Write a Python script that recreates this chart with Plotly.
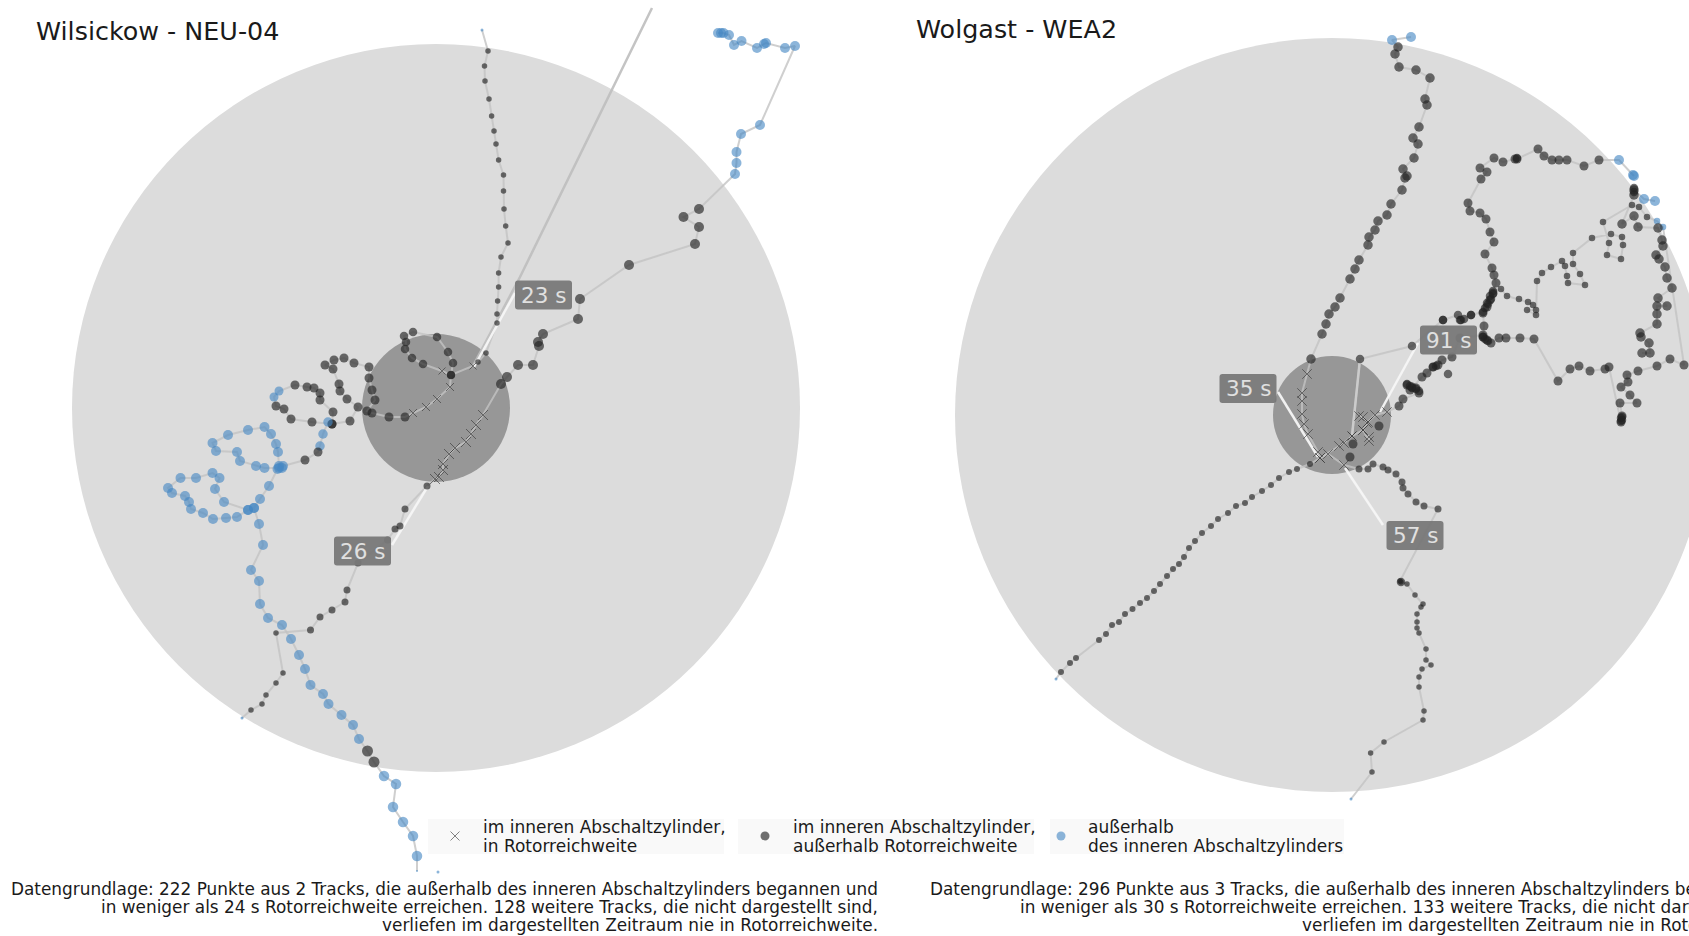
import plotly.graph_objects as go

# ---------- data: positions in the chart's drawing units ----------
big_left, inner_left = (436, 408, 364), (436, 408, 74)
big_right, inner_right = (1332, 415, 377), (1332, 415, 59)

# Wilsickow track A
a_start = [(482, 30)]
a_top = [(488,51),(484.5,66),(485,81),(489,99),(491.6,116),(494,131),(496,144),(498.6,160),(503.5,175),(503.5,191),(504,209),(505.7,226),(508,243),(501,257),(498.6,273),(498.6,287),(497.6,301),(497,314),(497,323),(486,353),(478,362)]
a_x1 = [(473,366)]
a_loop1 = [(451,375)]
a_x2 = [(442,371)]
a_loop2 = [(423,364),(412,358),(405,349),(406,342),(404,336),(413,332),(437,337),(448,352),(453,363),(451,375)]
a_x3 = [(450,387),(437,399),(426,407),(413,413)]
a_loop3 = [(405,417),(389,417),(372,413),(367,411),(375,400),(372,390),(369,378),(369,367),(354,363),(344,358),(334,360),(325,365),(333,369),(339,384),(340,391),(347,399),(358,407),(350,421),(332,424),(312,422),(291,419),(284,409),(276,406)]
a_blue1 = [(274,397),(279,391)]
a_loop4 = [(295,385),(307,387),(314,388),(320,393),(320,400),(333,412),(332,424)]
a_blue2 = [(328,422),(323,434),(320,446)]
a_loop5 = [(318,452),(305,460)]
a_blue3 = [(283,466),(279,466),(278,452),(276,444),(271,434),(264.5,427),(248,430),(228,435),(212.5,443),(216,451),(237,452),(240,461),(256,466),(264.5,468),(279,468),(282,468),(277.5,469),(269,486),(260,499),(254,508),(248,510),(224,502),(215,489),(219.5,478),(212.5,473),(196,478),(180.5,478),(168,488),(172,493),(185,496),(189,502),(191,509),(203,513),(213,519),(226,518),(237,517),(248,510),(254,508),(259,524),(263,545),(251,570),(259,581),(260,604),(268,618),(282,625),(291,639),(299,655),(305,669),(310.5,685),(323,694),(328.5,704),(341.5,715),(353,725),(359,739)]
a_dark_low = [(367.5,751),(374,762)]
a_blue4 = [(384,776),(396,784),(393,807),(403,822),(413,836),(417,856)]
a_end = [(417,871)]
a_fleck = [(438,872)]

# Wilsickow track B
b_start = [(242,718)]
b_low = [(251,710),(262,704),(266,695),(276,683),(283,673),(276,633)]
b_low2 = [(310.5,630),(320,617),(332,610),(345,602),(347,590),(358,563),(387.5,540),(395,529),(400,526),(405,509),(427,486)]
b_x = [(435,479),(439,477),(443,470),(443,464),(449,454),(455,448),(466,442),(471,434),(476,425),(483,415)]
b_mid = [(501,384),(507,377),(518,365),(533,365),(539,346),(538,342),(543,334),(578,319),(580,299),(629,265),(695,244),(699,227),(683.5,217),(699,209)]
b_blue = [(735,174),(736.5,163),(736.5,152),(741,134),(760,125),(795,46),(785,48),(766,43),(764,44),(757,48),(741.5,41),(734,45),(729,35),(723.5,33),(718,33),(721,33)]

left_long = [(652,8),(520,277),(473,366)]
left_white1 = [(515,293),(474,367)]
left_white2 = [(392,545),(428,486)]

# Wolgast track 1
r1_start = [(1351,799)]
r1_low = [(1372,772),(1370.6,753),(1384,742),(1423,720),(1424,711),(1419,687),(1419,677),(1422,669),(1431,665),(1426,660),(1426,649),(1419,633),(1417,628),(1417,622),(1417,614),(1421,607),(1423,604),(1415,595),(1407,584),(1401,582),(1400,581)]
r1_mid = [(1438,509),(1424,506),(1416,502),(1408,494),(1403,488),(1402,482),(1396,474),(1388,470),(1383,467),(1373,464),(1368,469),(1359,469)]
r1_x = [(1344,465),(1328,454),(1320,458),(1318,452),(1308,434),(1304,424),(1302,414),(1302,401),(1302,393),(1307,374)]
r1_top = [(1311,359),(1322,334),(1326,324),(1329,314),(1335,307),(1340,298),(1350,279),(1355,269),(1359,260),(1368,245),(1369,237),(1375,230),(1378,221),(1387,215),(1391,204),(1402,190),(1405,178),(1407,176),(1403,169),(1414,158),(1418,144),(1413,138),(1419,127),(1427,105),(1425,99),(1430,78),(1416,70),(1399,67),(1395,54),(1398,47)]
r1_blue = [(1392,40),(1411,37)]

# Wolgast track 2
r2_start = [(1056,679)]
r2_low = [(1061,672),(1070,663),(1076,658),(1099,640),(1106,634),(1112,625),(1119,622),(1125,614),(1132.5,609),(1140,603),(1147,598),(1154,591),(1160,584),(1167,576),(1173,569),(1179,564),(1184,557),(1189,548),(1195,541),(1202,533),(1211,526),(1218,519),(1228,513),(1236,506),(1245,503),(1252,497),(1262,491),(1271,485),(1279,478),(1289,472),(1297,469),(1310,464)]
r2_x = [(1320,458),(1339,446),(1344,443),(1352,436),(1363,430),(1369,437),(1369,441),(1363,430),(1368,422),(1359,416),(1363,417),(1367,423),(1375,415),(1387,412)]
r2_dots = [(1353,444),(1350,457),(1379,426)]
r2_up = [(1399,406),(1403,399),(1419,393),(1416,388),(1412,387),(1407,385),(1410,390),(1422,377),(1427,373),(1433,367),(1438,365),(1442,360),(1452,357),(1460,338),(1483,335),(1484,326),(1483,313),(1487,307),(1490,300),(1493,293),(1496,283),(1494,275),(1492,268),(1485,254),(1494,242),(1490,232),(1486,219),(1480,213),(1470,211),(1468,203),(1481,179),(1487,172),(1480,168),(1494,158),(1503,162),(1515,159),(1517,159),(1538,149),(1544,156),(1552,160),(1559,160),(1567,160),(1584,166),(1599,160)]
r2_blue = [(1619,160),(1633,175),(1634,176)]
r2_side = [(1448,374)]

# Wolgast track 3
r3_in = [(1352,436)]
r3_a = [(1360,359),(1412,346),(1443,320),(1458,315),(1460,320),(1471,315),(1483,312),(1487,303),(1490,296),(1493,291)]
r3_small = [(1501,289),(1507,296),(1519,299),(1528,302),(1533,305),(1536,310),(1527,310),(1536,315),(1537,281),(1542,273),(1551,267),(1562,261),(1565,266),(1567,276),(1568,283),(1585,285),(1580,274),(1573,264),(1573,253),(1592,238),(1611,234),(1622,237),(1623,245),(1621,259),(1607,255),(1609,243),(1603,222),(1632,205),(1639,207),(1647,217)]
r3_blue = [(1657,221),(1663,227)]
r3_b = [(1684,365),(1670,359),(1657,366),(1638,371),(1627,375),(1628,382),(1621,387),(1630,395),(1637,403),(1620,403),(1622,416),(1621,422),(1609,367),(1605,369),(1590,371),(1579,366),(1570,369),(1558,381),(1534,339),(1520,338),(1506,338),(1499,338),(1491,343),(1487,340),(1483,337)]
r3_c = [(1642,353),(1650,353),(1649,343),(1641,337),(1640,333),(1657,324),(1657,314),(1657,306),(1667,306),(1658,298),(1672,288),(1667,278),(1665,267),(1659,259),(1656,255),(1663,246),(1662,240),(1658,228),(1638,227),(1634,216),(1622,224),(1634,195),(1634,190)]
r3_blue2 = [(1644,199),(1655,201)]
dense = [(1407,384),(1410,386),(1412,388),(1416,389),(1419,391),(1433,367),(1436,366),(1483,337),(1485,339),(1488,341),(1471,315),(1461,320),(1464,319),(1443,320),(1488,304),(1485,308),(1491,299),(1493,294),(1621,418),(1621,421),(1622,420),(1622,417),(1634,188),(1634,192),(1401,582),(1517,158)]

right_white1 = [(1278,392),(1318,457)]
right_white2 = [(1383,525),(1345,468)]
right_white3 = [(1418,343),(1380,412)]

labels = ["23 s", "26 s", "35 s", "57 s", "91 s"]
label_x = [543.5, 362.5, 1248, 1415, 1448.5]
label_y = [295, 551, 388.5, 535.5, 340]

titles = ["Wilsickow - NEU-04", "Wolgast - WEA2"]
title_x = [34, 914]
title_y = [31, 29]

legend_lines = [["im inneren Abschaltzylinder,", "in Rotorreichweite"],
                ["im inneren Abschaltzylinder,", "außerhalb Rotorreichweite"],
                ["außerhalb", "des inneren Abschaltzylinders"]]
legend_text_x = [481, 791, 1086]
legend_mark_x = [455, 765, 1061]
legend_box = [(428, 724), (738, 1034), (1050, 1344)]

foot_left = ["Datengrundlage: 222 Punkte aus 2 Tracks, die außerhalb des inneren Abschaltzylinders begannen und",
             "in weniger als 24 s Rotorreichweite erreichen. 128 weitere Tracks, die nicht dargestellt sind,",
             "verliefen im dargestellten Zeitraum nie in Rotorreichweite."]
foot_right = ["Datengrundlage: 296 Punkte aus 3 Tracks, die außerhalb des inneren Abschaltzylinders begannen und",
              "in weniger als 30 s Rotorreichweite erreichen. 133 weitere Tracks, die nicht dargestellt sind,",
              "verliefen im dargestellten Zeitraum nie in Rotorreichweite."]
foot_right_x = [928, 1018, 1300]
foot_y = [889, 907, 925]

# ---------- styling ----------
DARK = "rgba(35,35,35,0.65)"
BLUE = "rgba(70,135,195,0.62)"
LINE = "rgba(195,195,195,0.8)"
FONT = "DejaVu Sans"
W, H = 1689, 936

tracks = [
    [(a_start,"b",3),(a_top,"d",5.5),(a_x1,"x",7),(a_loop1,"d",8),(a_x2,"x",7),(a_loop2,"d",8.5),(a_x3,"x",8),(a_loop3,"d",9),(a_blue1,"b",9),(a_loop4,"d",9),(a_blue2,"b",9.5),(a_loop5,"d",9),(a_blue3,"b",10),(a_dark_low,"d",11),(a_blue4,"b",10.5),(a_end,"b",2)],
    [(b_start,"b",3),(b_low,"d",5.5),(b_low2,"d",7),(b_x,"x",10),(b_mid,"d",10),(b_blue,"b",10)],
    [(r1_start,"b",3),(r1_low,"d",5.5),(r1_mid,"d",7),(r1_x,"x",9.5),(r1_top,"d",9.5),(r1_blue,"b",10)],
    [(r2_start,"b",3),(r2_low,"d",6),(r2_x,"x",9.5),(r2_up,"d",9),(r2_blue,"b",10)],
    [(r3_in,"x",8),(r3_a,"d",8.5),(r3_small,"d",6.5),(r3_blue,"b",6.5),(r3_b,"d",9)],
    [(r3_c,"d",9.5),(r3_blue2,"b",10)],
]
extra = [(a_fleck,"b",3),(r2_dots,"d",9),(r2_side,"d",8.5),(dense,"d",8.5)]

fig = go.Figure()
def xs(p): return [q[0] for q in p]
def ys(p): return [q[1] for q in p]

def add_line(pts, color=LINE, width=2):
    fig.add_trace(go.Scatter(x=xs(pts), y=ys(pts), mode="lines", line=dict(color=color, width=width),
                             hoverinfo="skip", showlegend=False))

def add_marks(pts, kind, size):
    if kind == "x":
        m = dict(symbol="x-thin", size=size, color="rgba(50,50,50,0.7)",
                 line=dict(color="rgba(50,50,50,0.6)", width=1))
    else:
        m = dict(symbol="circle", size=size, color=DARK if kind == "d" else BLUE, line=dict(width=0))
    fig.add_trace(go.Scatter(x=xs(pts), y=ys(pts), mode="markers", marker=m, hoverinfo="skip", showlegend=False))

add_line(left_long, "rgba(190,190,190,0.9)", 2.5)
for t in tracks:
    add_line([p for run in t for p in run[0]])
add_line(r3_in + r3_a[:1], "rgba(205,205,205,0.9)", 2.5)
for w in (left_white1, left_white2, right_white1, right_white2, right_white3):
    add_line(w, "rgba(245,245,245,0.95)", 2.5)
for t in tracks:
    for pts, kind, size in t:
        add_marks(pts, kind, size)
for pts, kind, size in extra:
    add_marks(pts, kind, size)

# legend marks
for (lx, kind, size) in zip(legend_mark_x, ["x", "d", "b"], [9, 9, 9]):
    add_marks([(lx, 836)], kind, size)

shapes = []
for (cx, cy, r), col in [(big_left, "#dcdcdc"), (big_right, "#dcdcdc"), (inner_left, "#979797"), (inner_right, "#979797")]:
    shapes.append(dict(type="circle", xref="x", yref="y", x0=cx-r, x1=cx+r, y0=cy-r, y1=cy+r,
                       fillcolor=col, line=dict(width=0), layer="below"))
for x0, x1 in legend_box:
    shapes.append(dict(type="rect", xref="x", yref="y", x0=x0, x1=x1, y0=819, y1=854,
                       fillcolor="#f9f9f9", line=dict(width=0), layer="below"))

# rounded label boxes, drawn above the tracks
BW, BH, R = 28.5, 14.5, 3
for cx, cy in zip(label_x, label_y):
    x0, x1, y0, y1 = cx-BW, cx+BW, cy-BH, cy+BH
    path = (f"M{x0+R},{y0} L{x1-R},{y0} Q{x1},{y0} {x1},{y0+R} L{x1},{y1-R} Q{x1},{y1} {x1-R},{y1} "
            f"L{x0+R},{y1} Q{x0},{y1} {x0},{y1-R} L{x0},{y0+R} Q{x0},{y0} {x0+R},{y0} Z")
    shapes.append(dict(type="path", xref="x", yref="y", path=path, fillcolor="rgba(120,120,120,0.95)",
                       line=dict(width=0), layer="above"))

ann = []
def text(s, x, y, size, anchor="left", color="#1a1a1a"):
    ann.append(dict(text=s, x=x, y=y, xref="x", yref="y", xanchor=anchor, yanchor="middle", showarrow=False,
                    font=dict(family=FONT, size=size, color=color)))

for s, x, y in zip(titles, title_x, title_y):
    text(s, x, y, 25.4)
for lines, x in zip(legend_lines, legend_text_x):
    text(lines[0], x, 827, 17)
    text(lines[1], x, 846, 17)
for s, y in zip(foot_left, foot_y):
    text(s, 880, y, 16.9, anchor="right")
for s, x, y in zip(foot_right, foot_right_x, foot_y):
    text(s, x, y, 16.9)
for s, x, y in zip(labels, label_x, label_y):
    text(s, x, y, 21.5, anchor="center", color="#e0e0e0")

fig.update_layout(width=W, height=H, margin=dict(l=0, r=0, t=0, b=0), paper_bgcolor="white", plot_bgcolor="white",
                  showlegend=False, shapes=shapes, annotations=ann,
                  xaxis=dict(range=[0, W], visible=False, fixedrange=True),
                  yaxis=dict(range=[H, 0], visible=False, fixedrange=True))
fig.write_html("out.html", config={"displayModeBar": False},
               post_script="document.body.style.margin='0';document.body.style.overflow='hidden';")
